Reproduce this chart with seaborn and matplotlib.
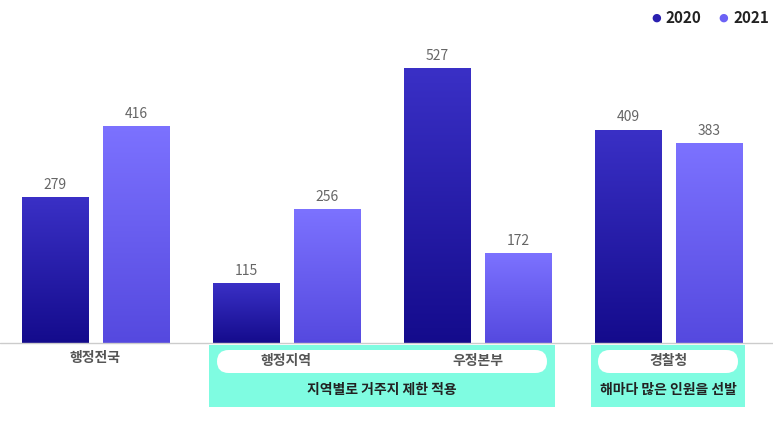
import matplotlib
matplotlib.use("Agg")
import matplotlib.pyplot as plt
import seaborn as sns
import pandas as pd
import numpy as np
from matplotlib.patches import FancyBboxPatch, Rectangle
from matplotlib.colors import LinearSegmentedColormap

categories = ["행정전국", "행정지역", "우정본부", "경찰청"]
years = ["2020", "2021"]
v2020 = [279, 115, 527, 409]
v2021 = [416, 256, 172, 383]

sns.set_theme(style="white")
plt.rcParams['font.family'] = ['Noto Sans CJK KR', 'DejaVu Sans']

df = pd.DataFrame({
    "cat": categories * 2,
    "year": ["2020"] * 4 + ["2021"] * 4,
    "val": v2020 + v2021,
})

W, H = 773, 425
fig = plt.figure(figsize=(7.73, 4.25), dpi=100)
fig.patch.set_facecolor("white")
ax = fig.add_axes([0, 82 / H, 1, 313 / H])
sns.barplot(data=df, x="cat", y="val", hue="year", order=categories, hue_order=years,
            width=0.85, gap=0.18, ax=ax, legend=False, palette=["#2a20b0", "#6c62f5"])
ax.set_xlim(-0.5, (W - 95.5) / 191)
ax.set_ylim(0, 600)
ax.axis("off")

grads = {
    "2020": LinearSegmentedColormap.from_list("a", ["#140b8c", "#3a30c6"]),
    "2021": LinearSegmentedColormap.from_list("b", ["#5549df", "#7c72ff"]),
}
grad = np.linspace(0, 1, 256).reshape(-1, 1)
patches = [p for p in ax.patches if p.get_height() > 0]
for i, p in enumerate(patches):
    yr = years[i // 4]
    x0, w, h = p.get_x(), p.get_width(), p.get_height()
    p.set_alpha(0)
    im = ax.imshow(grad, cmap=grads[yr], extent=[x0, x0 + w, 0, h], origin="lower",
                   aspect="auto", zorder=3)
    r = Rectangle((x0, 0), w, h, transform=ax.transData, facecolor="none", edgecolor="none")
    ax.add_patch(r)
    im.set_clip_path(r)
    ax.text(x0 + w / 2, h + 10, f"{[v2020, v2021][i // 4][i % 4]}", ha="center", va="bottom",
            fontsize=10, color="#666666", zorder=4)
ax.set_xlim(-0.5, (W - 95.5) / 191)
ax.set_ylim(0, 600)

# baseline
fig.add_artist(plt.Line2D([0, 1], [1 - 343 / H] * 2, color="#cccccc", lw=1))

def fx(x): return x / W
def fy(y): return 1 - y / H

# category label
fig.text(fx(95.5), fy(358), "행정전국", ha="center", va="center", fontsize=10, color="#555555", fontweight="bold")

teal = "#7ffce1"
for (x0, x1) in [(209, 555), (591, 745)]:
    fig.add_artist(Rectangle((fx(x0), fy(407)), fx(x1 - x0), (407 - 345) / H,
                             transform=fig.transFigure, facecolor=teal, edgecolor="none"))

def pill(x0, x1, label):
    fig.add_artist(FancyBboxPatch((fx(x0), fy(373)), fx(x1 - x0), 23 / H,
                                  boxstyle="round,pad=0,rounding_size=0.027",
                                  transform=fig.transFigure, facecolor="white", edgecolor="none",
                                  mutation_aspect=W / H))

fig.add_artist(FancyBboxPatch((fx(217), fy(373)), fx(547 - 217), 23 / H,
                              boxstyle="round,pad=0,rounding_size=0.015",
                              transform=fig.transFigure, facecolor="white", edgecolor="none",
                              mutation_aspect=W / H))
fig.add_artist(FancyBboxPatch((fx(598), fy(373)), fx(738 - 598), 23 / H,
                              boxstyle="round,pad=0,rounding_size=0.015",
                              transform=fig.transFigure, facecolor="white", edgecolor="none",
                              mutation_aspect=W / H))
fig.text(fx(286), fy(361), "행정지역", ha="center", va="center", fontsize=10, color="#555555", fontweight="bold")
fig.text(fx(477.5), fy(361), "우정본부", ha="center", va="center", fontsize=10, color="#555555", fontweight="bold")
fig.text(fx(668), fy(361), "경찰청", ha="center", va="center", fontsize=10, color="#555555", fontweight="bold")
fig.text(fx(382), fy(390), "지역별로 거주지 제한 적용", ha="center", va="center", fontsize=10, color="#222222", fontweight="bold")
fig.text(fx(668), fy(390), "해마다 많은 인원을 선발", ha="center", va="center", fontsize=10, color="#222222", fontweight="bold")

# legend
for x, lab, c in [(656, "2020", "#2a20b0"), (723, "2021", "#6c62f5")]:
    fig.text(fx(x), fy(18), "●", ha="center", va="center", fontsize=8, color=c, family="DejaVu Sans")
    fig.text(fx(x + 10), fy(18), lab, ha="left", va="center", fontsize=11, color="#222222", fontweight="bold")

fig.savefig("out.png", dpi=100)
